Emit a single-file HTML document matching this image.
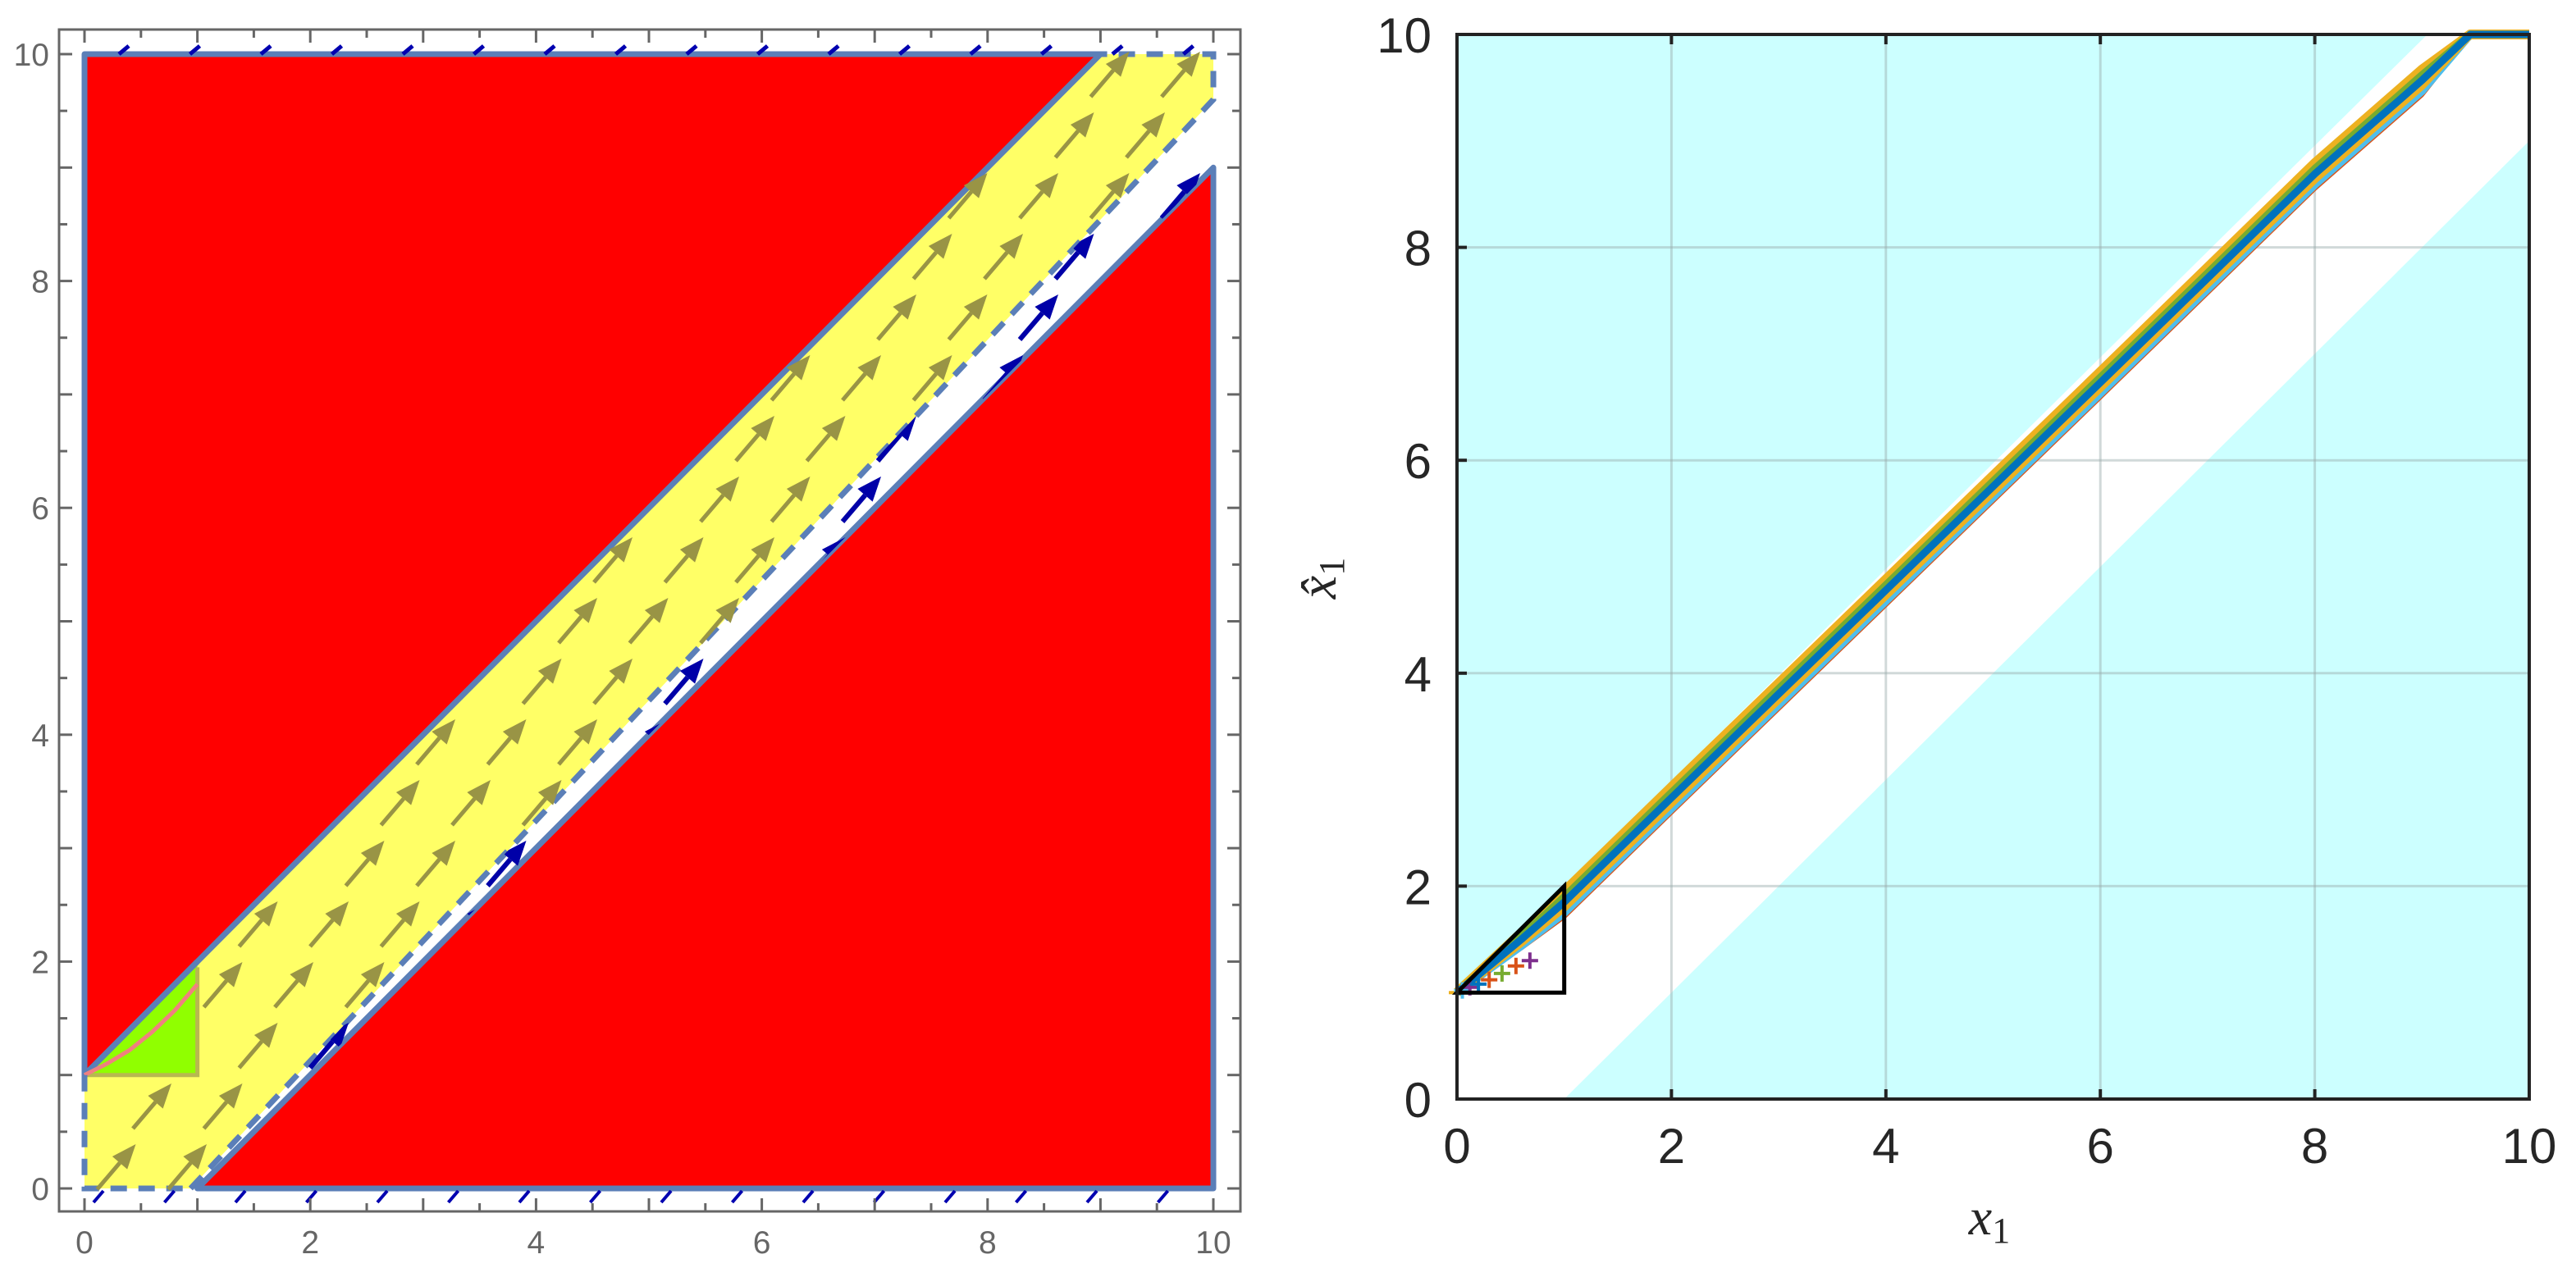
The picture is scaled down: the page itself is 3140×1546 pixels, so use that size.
<!DOCTYPE html>
<html><head><meta charset="utf-8"><style>
html,body{margin:0;padding:0;background:#fff;}
svg{display:block;}
</style></head><body>
<svg id="fig" width="3140" height="1546" viewBox="0 0 3140 1546" xmlns="http://www.w3.org/2000/svg">
<g id="left"></g>
<g id="right"></g>
</svg>
<script>
// ---------- data: left plot ----------
const redUpperX = [0, 0, 9];
const redUpperY = [1, 10, 10];
const redLowerX = [1, 10, 10];
const redLowerY = [0, 0, 9];
const yellowX = [0, 0.94, 10, 10, 9, 0];
const yellowY = [0, 0, 9.6, 10, 10, 1];
const whiteX = [0.94, 1, 10, 10];
const whiteY = [0, 0, 9, 9.6];
const greenX = [0, 1, 1];
const greenY = [1, 1, 2];
const pinkX = [0, 0.2, 0.4, 0.6, 0.8, 1];
const pinkY = [1, 1.1, 1.22, 1.38, 1.57, 1.8];
const leftTicks = [0, 2, 4, 6, 8, 10];
// ---------- data: right plot ----------
const cyanUpperX = [0, 0, 9.05];
const cyanUpperY = [1, 10, 10];
const cyanLowerX = [1, 10, 10];
const cyanLowerY = [0, 0, 9];
const trajX = [0, 0.3, 0.6, 1, 2, 4, 6, 8, 9, 9.45, 10];
const trajY = [1, 1.25, 1.5, 1.85, 2.83, 4.78, 6.73, 8.69, 9.57, 10, 10];
const triX = [0, 1, 1, 0];
const triY = [1, 2, 1, 1];
const rightTicks = [0, 2, 4, 6, 8, 10];

const NS = 'http://www.w3.org/2000/svg';
function mk(parent, tag, attrs, name) {
  const e = document.createElementNS(NS, tag);
  for (const k in attrs) e.setAttribute(k, attrs[k]);
  
  
  parent.appendChild(e);
  return e;
}
const LX = v => 103 + v * 137.6;
const LY = v => 1449 - v * 138.3;
const RX = v => 1776 + v * 130.7;
const RY = v => 1340 - v * 129.8;

function pts(xs, ys, fx, fy) { return xs.map((x, i) => fx(x) + ',' + fy(ys[i])).join(' '); }

// ================= LEFT =================
const L = document.getElementById('left');
const BL = '#5b7fb8';
mk(L, 'polygon', {points: pts(yellowX, yellowY, LX, LY), fill: '#ffff66'}, 'yellow-region');
mk(L, 'polygon', {points: pts(whiteX, whiteY, LX, LY), fill: '#ffffff'}, 'white-strip');
mk(L, 'polygon', {points: pts(redUpperX, redUpperY, LX, LY), fill: '#ff0000', stroke: BL, 'stroke-width': 7, 'stroke-linejoin': 'round'}, 'red-region-upper');
mk(L, 'polygon', {points: pts(redLowerX, redLowerY, LX, LY), fill: '#ff0000', stroke: BL, 'stroke-width': 7, 'stroke-linejoin': 'round'}, 'red-region-lower');
mk(L, 'polygon', {points: pts(greenX, greenY, LX, LY), fill: '#90ff00'}, 'green-region');
mk(L, 'polyline', {points: LX(0)+','+LY(1)+' '+LX(1)+','+LY(1)+' '+LX(1)+','+LY(1.95), fill: 'none', stroke: '#b8b850', 'stroke-width': 5}, 'green-border');
mk(L, 'line', {x1: LX(0), y1: LY(1), x2: LX(1), y2: LY(2), stroke: BL, 'stroke-width': 7}, 'green-diagonal-border');
mk(L, 'polyline', {points: pts(pinkX, pinkY, LX, LY), fill: 'none', stroke: '#f08080', 'stroke-width': 5}, 'pink-curve');
const dash = {fill: 'none', stroke: BL, 'stroke-width': 7, 'stroke-dasharray': '20 14'};
mk(L, 'polyline', Object.assign({points: LX(0)+','+LY(1)+' '+LX(0)+','+LY(0)+' '+LX(0.94)+','+LY(0)}, dash), 'yellow-dashed-border-left');
mk(L, 'polyline', Object.assign({points: LX(0.94)+','+LY(0)+' '+LX(10)+','+LY(9.6)+' '+LX(10)+','+LY(10)+' '+LX(9)+','+LY(10)}, dash), 'yellow-dashed-border-right');
const defs = mk(L, 'defs', {}, 'arrow-defs');
const clip = mk(defs, 'clipPath', {id: 'wclip'}, 'white-strip-clip');
mk(clip, 'polygon', {points: pts(whiteX, whiteY, LX, LY)}, 'white-strip-clip-shape');
const wg = mk(L, 'g', {'clip-path': 'url(#wclip)'}, 'blue-arrows');
function inPoly(px, py, xs, ys) {
  let c = false;
  for (let i = 0, j = xs.length - 1; i < xs.length; j = i++) {
    if (((ys[i] > py) != (ys[j] > py)) && (px < (xs[j] - xs[i]) * (py - ys[i]) / (ys[j] - ys[i]) + xs[i])) c = !c;
  }
  return c;
}
function arrow(g, tx, ty, col, w, name) {
  const dx = 47, dy = -55, len = Math.hypot(dx, dy);
  const ux = dx / len, uy = dy / len;
  const bx = tx - ux * 30, by = ty - uy * 30;
  mk(g, 'line', {x1: tx - dx, y1: ty - dy, x2: bx, y2: by, stroke: col, 'stroke-width': w}, name + '-shaft');
  mk(g, 'polygon', {points: tx+','+ty+' '+(bx - uy*12)+','+(by + ux*12)+' '+(bx + uy*12)+','+(by - ux*12), fill: col}, name + '-head');
}
for (let j = -2; j < 22; j++) {
  const ty = 507 + 74 * (j - 6);
  const off = (j % 2 === 0) ? 0 : -43;
  for (let i = -2; i < 20; i++) {
    const tx = 944 + off + 86.5 * (i - 10);
    const cx = tx - 23, cy = ty + 27;
    const dxv = (cx - 103) / 137.6, dyv = (1449 - cy) / 138.3;
    if (inPoly(dxv, dyv, yellowX, yellowY) && !inPoly(dxv, dyv, greenX, greenY)) arrow(L, tx, ty, '#999445', 5, 'olive-arrow');
    else if (inPoly(dxv, dyv, [0.7,1,10,10.2], [-0.3,-0.3,9,9.9]) && dxv < 10 && dyv > 0) arrow(wg, tx, ty, '#0000a8', 6, 'blue-arrow');
  }
}
for (let i = 0; i < 16; i++) {
  const x = 120 + 86.5 * i;
  if (x < 1500) {
    mk(L, 'line', {x1: x - 6, y1: 1466, x2: x + 6, y2: 1452, stroke: '#0000b0', 'stroke-width': 4}, 'bottom-edge-arrow');
    mk(L, 'line', {x1: x + 25, y1: 66, x2: x + 37, y2: 56, stroke: '#0000b0', 'stroke-width': 5}, 'top-edge-arrow');
  }
}
mk(L, 'rect', {x: 72, y: 36, width: 1440, height: 1441, fill: 'none', stroke: '#666', 'stroke-width': 3}, 'left-frame');
for (let k = 0; k <= 20; k++) {
  const v = k / 2, len = (k % 2 === 0) ? 16 : 10;
  mk(L, 'line', {x1: LX(v), y1: 1477, x2: LX(v), y2: 1477 - len, stroke: '#666', 'stroke-width': 3}, 'x-tick-bottom');
  mk(L, 'line', {x1: LX(v), y1: 36, x2: LX(v), y2: 36 + len, stroke: '#666', 'stroke-width': 3}, 'x-tick-top');
  mk(L, 'line', {x1: 72, y1: LY(v), x2: 72 + len, y2: LY(v), stroke: '#666', 'stroke-width': 3}, 'y-tick-left');
  mk(L, 'line', {x1: 1512, y1: LY(v), x2: 1512 - len, y2: LY(v), stroke: '#666', 'stroke-width': 3}, 'y-tick-right');
}
leftTicks.forEach(v => {
  const t = mk(L, 'text', {x: LX(v), y: 1528, 'text-anchor': 'middle', 'font-family': 'Liberation Sans, sans-serif', 'font-size': 39, fill: '#666'}, 'x-tick-label');
  t.textContent = v;
  const u = mk(L, 'text', {x: 60, y: LY(v) + 14, 'text-anchor': 'end', 'font-family': 'Liberation Sans, sans-serif', 'font-size': 39, fill: '#666'}, 'y-tick-label');
  u.textContent = v;
});

// ================= RIGHT =================
const R = document.getElementById('right');
mk(R, 'rect', {x: RX(0), y: RY(10), width: RX(10) - RX(0), height: RY(0) - RY(10), fill: '#fff'}, 'plot-background');
mk(R, 'polygon', {points: pts(cyanUpperX, cyanUpperY, RX, RY), fill: '#ccffff'}, 'cyan-region-upper');
mk(R, 'polygon', {points: pts(cyanLowerX, cyanLowerY, RX, RY), fill: '#ccffff'}, 'cyan-region-lower');
rightTicks.slice(1, -1).forEach(v => {
  mk(R, 'line', {x1: RX(v), y1: RY(0), x2: RX(v), y2: RY(10), stroke: '#9aa', 'stroke-opacity': 0.45, 'stroke-width': 3}, 'x-grid-line');
  mk(R, 'line', {x1: RX(0), y1: RY(v), x2: RX(10), y2: RY(v), stroke: '#9aa', 'stroke-opacity': 0.45, 'stroke-width': 3}, 'y-grid-line');
});
const bands = [
  {o: 0.1, c: '#EDB120', w: 12, n: 'trajectory-orange-outer'},
  {o: -0.14, c: '#D95319', w: 5, n: 'trajectory-red'},
  {o: -0.1, c: '#4DBEEE', w: 10, n: 'trajectory-lightblue'},
  {o: -0.05, c: '#EDB120', w: 10, n: 'trajectory-orange-inner'},
  {o: 0.05, c: '#77AC30', w: 9, n: 'trajectory-green'},
  {o: 0.0, c: '#0072BD', w: 9, n: 'trajectory-blue'}
];
bands.forEach(b => {
  const p = trajX.map((x, i) => {
    const last = i >= trajX.length - 2;
    return RX(x) + ',' + RY(last ? 10 : trajY[i] + b.o * Math.min(1, x));
  }).join(' ');
  mk(R, 'polyline', {points: p, fill: 'none', stroke: b.c, 'stroke-width': b.w, 'stroke-linejoin': 'round'}, b.n);
});
const mkX = [0, 0.05, 0.12, 0.2, 0.3, 0.42, 0.55, 0.68];
const mkY = [1, 1.02, 1.05, 1.08, 1.12, 1.18, 1.25, 1.3];
const mkC = ['#EDB120', '#4DBEEE', '#7E2F8E', '#0072BD', '#D95319', '#77AC30', '#D95319', '#7E2F8E'];
mkX.forEach((x, i) => {
  const cx = RX(x), cy = RY(mkY[i]);
  mk(R, 'path', {d: `M${cx-10},${cy}H${cx+10}M${cx},${cy-10}V${cy+10}`, stroke: mkC[i], 'stroke-width': 4}, 'start-marker');
});
mk(R, 'polygon', {points: pts(triX, triY, RX, RY), fill: 'none', stroke: '#000', 'stroke-width': 5}, 'initial-set-triangle');
mk(R, 'rect', {x: RX(0), y: RY(10), width: RX(10) - RX(0), height: RY(0) - RY(10), fill: 'none', stroke: '#222', 'stroke-width': 4}, 'right-frame');
rightTicks.forEach(v => {
  mk(R, 'line', {x1: RX(v), y1: RY(0), x2: RX(v), y2: RY(0) - 12, stroke: '#222', 'stroke-width': 4}, 'x-tick');
  mk(R, 'line', {x1: RX(v), y1: RY(10), x2: RX(v), y2: RY(10) + 12, stroke: '#222', 'stroke-width': 4}, 'x-tick-top');
  mk(R, 'line', {x1: RX(0), y1: RY(v), x2: RX(0) + 12, y2: RY(v), stroke: '#222', 'stroke-width': 4}, 'y-tick');
  const t = mk(R, 'text', {x: RX(v), y: 1418, 'text-anchor': 'middle', 'font-family': 'Liberation Sans, sans-serif', 'font-size': 60, fill: '#262626'}, 'x-tick-label');
  t.textContent = v;
  const u = mk(R, 'text', {x: 1745, y: RY(v) + 22, 'text-anchor': 'end', 'font-family': 'Liberation Sans, sans-serif', 'font-size': 60, fill: '#262626'}, 'y-tick-label');
  u.textContent = v;
});
const xl = mk(R, 'text', {x: 2425, y: 1505, 'text-anchor': 'middle', 'font-family': 'Liberation Serif, serif', 'font-size': 64, 'font-style': 'italic', fill: '#262626'}, 'x-axis-title');
xl.innerHTML = 'x<tspan font-style="normal" font-size="44" dy="10">1</tspan>';
const yl = mk(R, 'text', {x: 0, y: 0, transform: 'translate(1628,705) rotate(-90)', 'text-anchor': 'middle', 'font-family': 'Liberation Serif, serif', 'font-size': 64, 'font-style': 'italic', fill: '#262626'}, 'y-axis-title');
yl.innerHTML = 'x̂<tspan font-style="normal" font-size="44" dy="10">1</tspan>';
</script>
</body></html>
